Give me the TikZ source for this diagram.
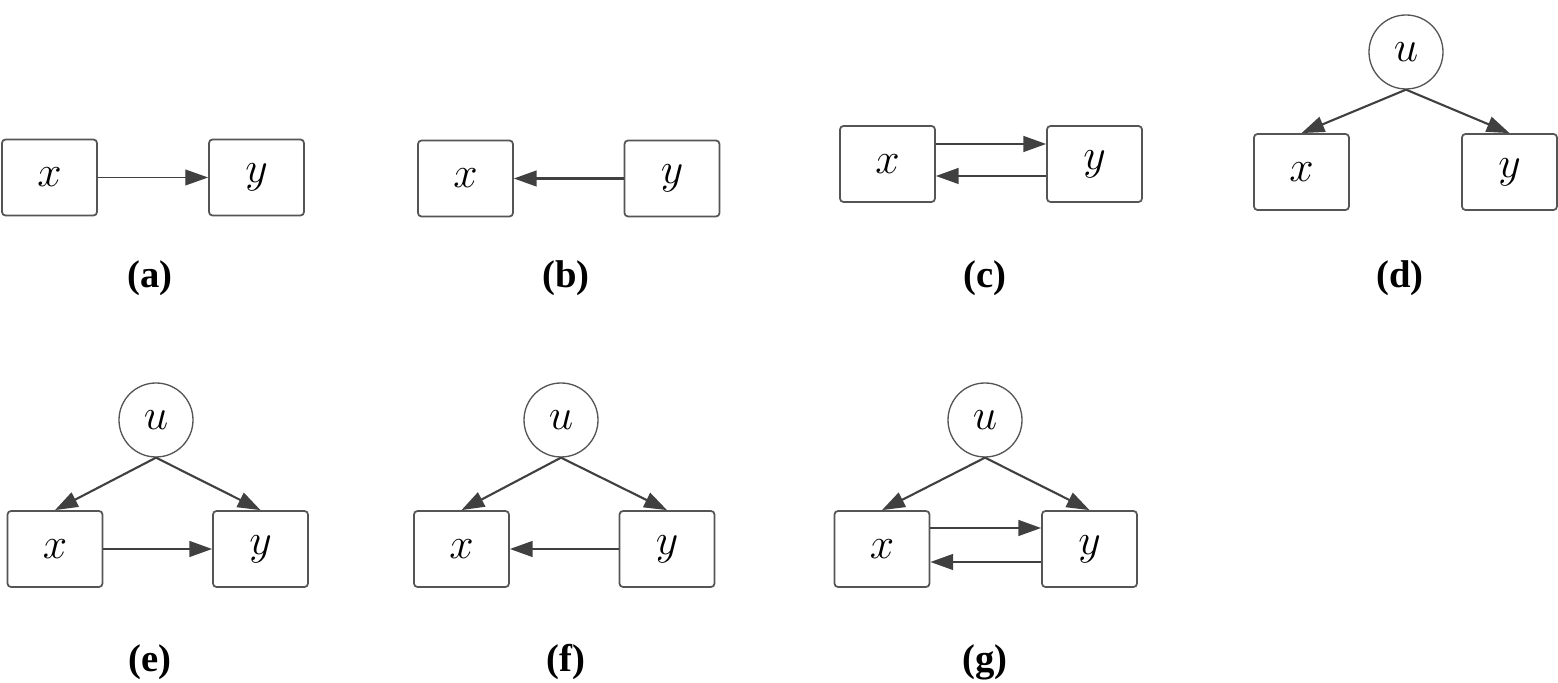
\documentclass[tikz,border=0pt]{standalone}
\usepackage{fontspec}
\setmainfont{Liberation Serif}
\usetikzlibrary{arrows.meta,positioning}
\definecolor{edgegray}{HTML}{404040}
\definecolor{boxgray}{HTML}{555555}

\begin{document}
\begin{tikzpicture}[>={Triangle[length=13pt,width=9pt]},
  var/.style={draw=boxgray,line width=1pt,rounded corners=2pt,minimum width=1.9cm,minimum height=1.52cm,inner sep=0pt,font=\fontsize{23}{26}\selectfont},
  lat/.style={draw=boxgray,line width=0.75pt,circle,minimum size=1.48cm,inner sep=0pt,font=\fontsize{23}{26}\selectfont},
  edge/.style={->,draw=edgegray,line width=1.2pt},
  sublabel/.style={font=\fontsize{22}{26}\selectfont\bfseries}]
\useasboundingbox (0,0) rectangle (31.16,13.66);
% (a) x -> y
\node[var] (xa) at (0.99,10.11) {$x$};
\node[var] (ya) at (5.13,10.11) {$y$};
\draw[edge,line width=0.8pt] (xa) -- (ya);
\node[sublabel] (la) at (3.0,8.10) {(a)};
% (b) y -> x
\node[var] (xb) at (9.31,10.09) {$x$};
\node[var] (yb) at (13.44,10.09) {$y$};
\draw[edge] (yb) -- (xb);
\node[sublabel] (lb) at (11.32,8.10) {(b)};
% (c) feedback loop
\node[var] (xc) at (17.75,10.38) {$x$};
\node[var] (yc) at (21.89,10.38) {$y$};
\draw[edge] ([yshift=0.4cm]xc.east) -- ([yshift=0.4cm]yc.west);
\draw[edge] ([yshift=-0.24cm]yc.west) -- ([yshift=-0.24cm]xc.east);
\node[sublabel] (lc) at (19.70,8.10) {(c)};
% (d) common cause only
\node[lat] (ud) at (28.12,12.62) {$u$};
\node[var] (xd) at (26.03,10.22) {$x$};
\node[var] (yd) at (30.19,10.22) {$y$};
\draw[edge] (ud.south) -- (xd.north);
\draw[edge] (ud.south) -- (yd.north);
\node[sublabel] (ld) at (28.0,8.10) {(d)};
% (e) common cause + x -> y
\node[lat] (ue) at (3.12,5.26) {$u$};
\node[var] (xe) at (1.10,2.68) {$x$};
\node[var] (ye) at (5.21,2.68) {$y$};
\draw[edge] (ue.south) -- (xe.north);
\draw[edge] (ue.south) -- (ye.north);
\draw[edge] (xe) -- (ye);
\node[sublabel] (le) at (3.0,0.42) {(e)};
% (f) common cause + y -> x
\node[lat] (uf) at (11.22,5.26) {$u$};
\node[var] (xf) at (9.23,2.68) {$x$};
\node[var] (yf) at (13.34,2.68) {$y$};
\draw[edge] (uf.south) -- (xf.north);
\draw[edge] (uf.south) -- (yf.north);
\draw[edge] (yf) -- (xf);
\node[sublabel] (lf) at (11.32,0.42) {(f)};
% (g) common cause + loop
\node[lat] (ug) at (19.70,5.26) {$u$};
\node[var] (xg) at (17.64,2.68) {$x$};
\node[var] (yg) at (21.79,2.68) {$y$};
\draw[edge] (ug.south) -- (xg.north);
\draw[edge] (ug.south) -- (yg.north);
\draw[edge] ([yshift=0.42cm]xg.east) -- ([yshift=0.42cm]yg.west);
\draw[edge] ([yshift=-0.26cm]yg.west) -- ([yshift=-0.26cm]xg.east);
\node[sublabel] (lg) at (19.70,0.42) {(g)};
\end{tikzpicture}
\end{document}
